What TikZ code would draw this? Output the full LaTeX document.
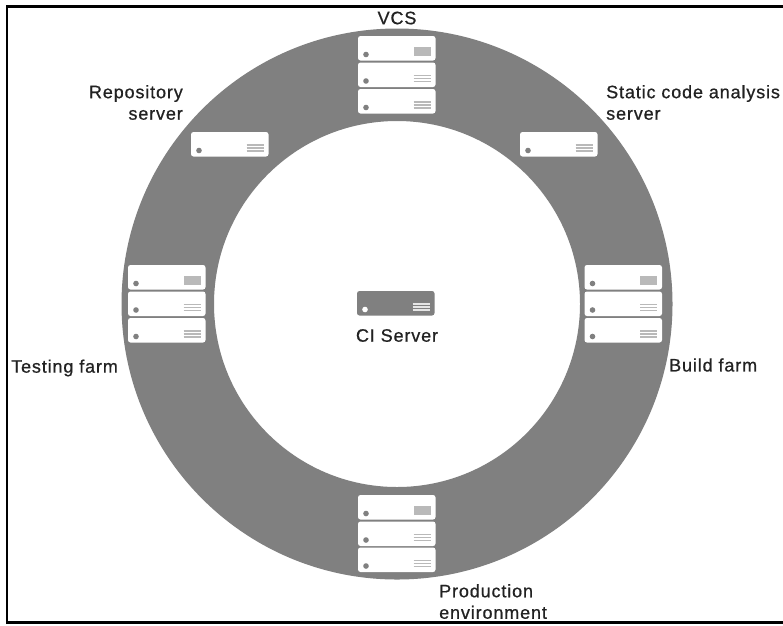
\documentclass[tikz,border=0pt]{standalone}
\usepackage{fontspec}
\setmainfont{Liberation Sans}[LetterSpace=4.8,FakeBold=0.7]
\usetikzlibrary{calc}
\definecolor{ringgray}{HTML}{808080}
\definecolor{txt}{HTML}{222222}
\tikzset{x=1pt,y=-1pt,
 srvbox/.style={draw=none,fill=white,rounded corners=2.5pt,minimum width=77.5pt,minimum height=24.5pt,inner sep=0pt,outer sep=0pt,anchor=north west},
 lbl/.style={font=\fontsize{18}{21.5}\selectfont,text=txt,inner sep=0pt,align=center}}
\newcommand{\srvdots}[4]{% node, dot colour, line colour, filled?
 \fill[#2] (#1.south west)++(8,-6) circle (2.8);
 \ifnum#4=1
  \fill[#3] ($(#1.south east)+(-22,-13.5)$) rectangle ++(17,8.5);
 \else
  \foreach \k in {0,1,2}{\draw[#3,line width=1.5pt] ($(#1.south east)+(-22,{-11.7+3*\k})$) -- ++(17,0);}
 \fi}
\begin{document}
\begin{tikzpicture}
\useasboundingbox (0,0) rectangle (783,625);
\fill[white] (0,0) rectangle (783,625);
\fill[ringgray,even odd rule] (397,304) circle (275.5) (397,304) circle (183);
\draw[black,line width=2.4pt] (783,6.5) -- (7,6.5) -- (7,622.5) -- (783,622.5);
\foreach \nm/\x/\y/\f in {a1/358/36/1,a2/358/62.5/0,a3/358/89/0,
  b1/520/132/0,c1/191/132/0,
  d1/128/265/1,d2/128/291.5/0,d3/128/318/0,
  e1/584.5/265/1,e2/584.5/291.5/0,e3/584.5/318/0,
  f1/358/495/1,f2/358/521.5/0,f3/358/547.5/0}{
  \node[srvbox] (\nm) at (\x,\y) {};
  \srvdots{\nm}{ringgray}{ringgray!55!white}{\f}
}
\node[srvbox,fill=ringgray] (ci) at (357,291) {};
\srvdots{ci}{white}{white!80!ringgray}{0}
\node[lbl] (tci) at (397,335.5) {CI Server};
\node[lbl] (tvcs) at (397,18) {VCS};
\node[lbl,align=right,anchor=east] (trepo) at (183,102.5) {Repository\\server};
\node[lbl,align=left,anchor=west] (tstat) at (606,102.5) {Static code analysis\\server};
\node[lbl,anchor=west] (ttest) at (11,368) {Testing farm};
\node[lbl,anchor=west] (tbuild) at (669,365) {Build farm};
\node[lbl,align=left,anchor=north west] (tprod) at (439,584) {Production\\environment};
\end{tikzpicture}
\end{document}
